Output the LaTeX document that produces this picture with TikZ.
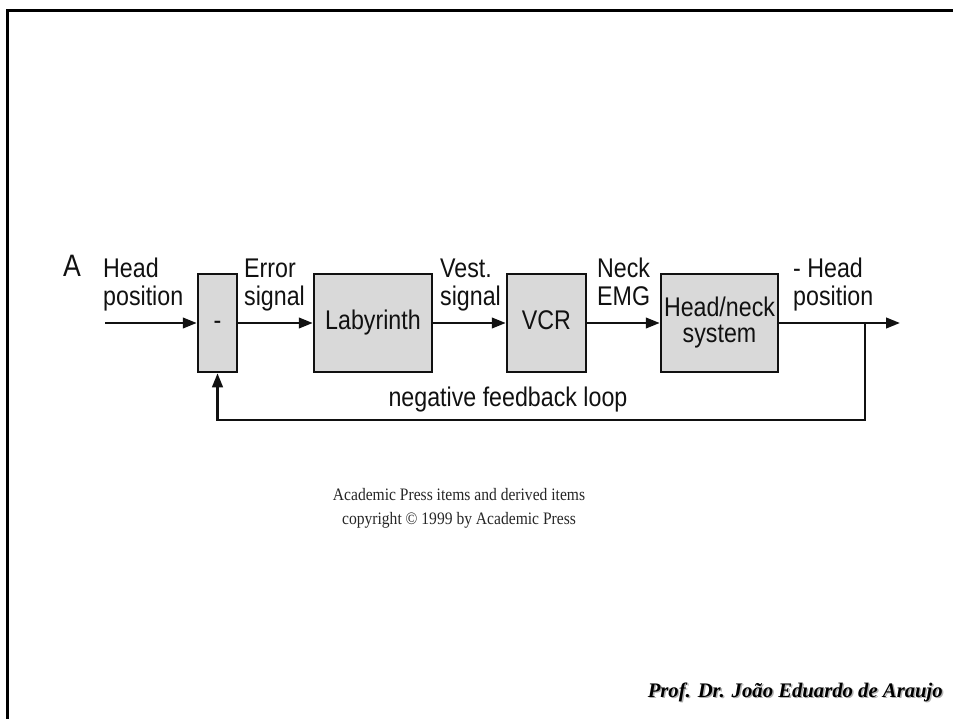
\documentclass[tikz,border=0pt]{standalone}
\usepackage{fontspec}
\setmainfont{Liberation Serif}
\newfontfamily\diagfont[FakeStretch=0.86]{Liberation Sans}
\newfontfamily\notefont[FakeStretch=0.89]{Liberation Serif}
\usetikzlibrary{arrows.meta}

\definecolor{boxgray}{HTML}{D9D9D9}
\definecolor{ink}{HTML}{111111}

% fixed first-line height so every label shares one baseline
\newcommand{\labelstrut}{\rule{0pt}{20pt}}

\tikzset{
  blk/.style={draw=ink, fill=boxgray, line width=2.5pt, inner sep=0pt,
    font=\diagfont\fontsize{27}{26}\selectfont, align=center, text=ink},
  oneline/.style={text height=19pt, text depth=5pt},
  sig/.style={draw=ink, line width=2.5pt, -{Triangle[length=14pt,width=10.5pt]}},
  lbl/.style={inner sep=0pt, align=left, text=ink,
    font=\diagfont\fontsize{27}{28}\selectfont},
  note/.style={inner sep=0pt, align=center, text=black!85,
    font=\notefont\fontsize{17.5}{24}\selectfont},
  author/.style={inner sep=0pt, font=\bfseries\itshape\fontsize{20.7}{24}\selectfont}
}

\begin{document}
\begin{tikzpicture}[x=1pt, y=-1pt]
  \useasboundingbox (0,0) rectangle (953,719);

  % slide frame (top and left edges)
  \coordinate (frameBL) at (7,719);
  \coordinate (frameTL) at (7,10.5);
  \coordinate (frameTR) at (953,10.5);
  \draw[line width=3pt, line cap=rect] (frameBL) -- (frameTL) -- (frameTR);

  % blocks
  \node[blk, oneline, minimum width=39pt, minimum height=98pt] (sum) at (217.5,323) {-};
  \node[blk, oneline, minimum width=118pt, minimum height=98pt] (lab) at (373,323) {Labyrinth};
  \node[blk, oneline, minimum width=79pt, minimum height=98pt] (vcr) at (546.5,323) {VCR};
  \node[blk, minimum width=117pt, minimum height=98pt] (hn) at (719.5,323) {Head/neck\\system};

  % panel letter and signal labels
  \node[lbl, anchor=base west, font=\diagfont\fontsize{31}{31}\selectfont] (panel) at (63,277) {A};
  \node[lbl, anchor=north west] (inlbl) at (103,257) {\labelstrut Head\\position};
  \node[lbl, anchor=north west] (errlbl) at (244,257) {\labelstrut Error\\signal};
  \node[lbl, anchor=north west] (vestlbl) at (440,257) {\labelstrut Vest.\\signal};
  \node[lbl, anchor=north west] (emglbl) at (597,257) {\labelstrut Neck\\EMG};
  \node[lbl, anchor=north west] (outlbl) at (793,257) {\labelstrut - Head\\position};
  \node[lbl, anchor=center] (fblbl) at (508,400) {negative feedback loop};

  % forward path
  \coordinate (in) at (105,323);
  \coordinate (out) at (900,323);
  \draw[sig] (in) -- (sum);
  \draw[sig] (sum) -- (lab);
  \draw[sig] (lab) -- (vcr);
  \draw[sig] (vcr) -- (hn);
  \draw[sig] (hn) -- (out);

  % feedback path
  \coordinate (tap) at (865,323);
  \coordinate (fbcorner) at (865,420);
  \draw[sig] (tap) -- (fbcorner) -| (sum.south);

  % credits
  \node[note, anchor=north] (credit) at (459,488)
    {Academic Press items and derived items\\copyright \textcopyright{} 1999 by Academic Press};
  \node[author, anchor=base east, text=black!30] (authorshadow) at (944.5,698.5)
    {Prof. Dr. João Eduardo de Araujo};
  \node[author, anchor=base east, text=black] (authorname) at (943,697)
    {Prof. Dr. João Eduardo de Araujo};
\end{tikzpicture}
\end{document}
